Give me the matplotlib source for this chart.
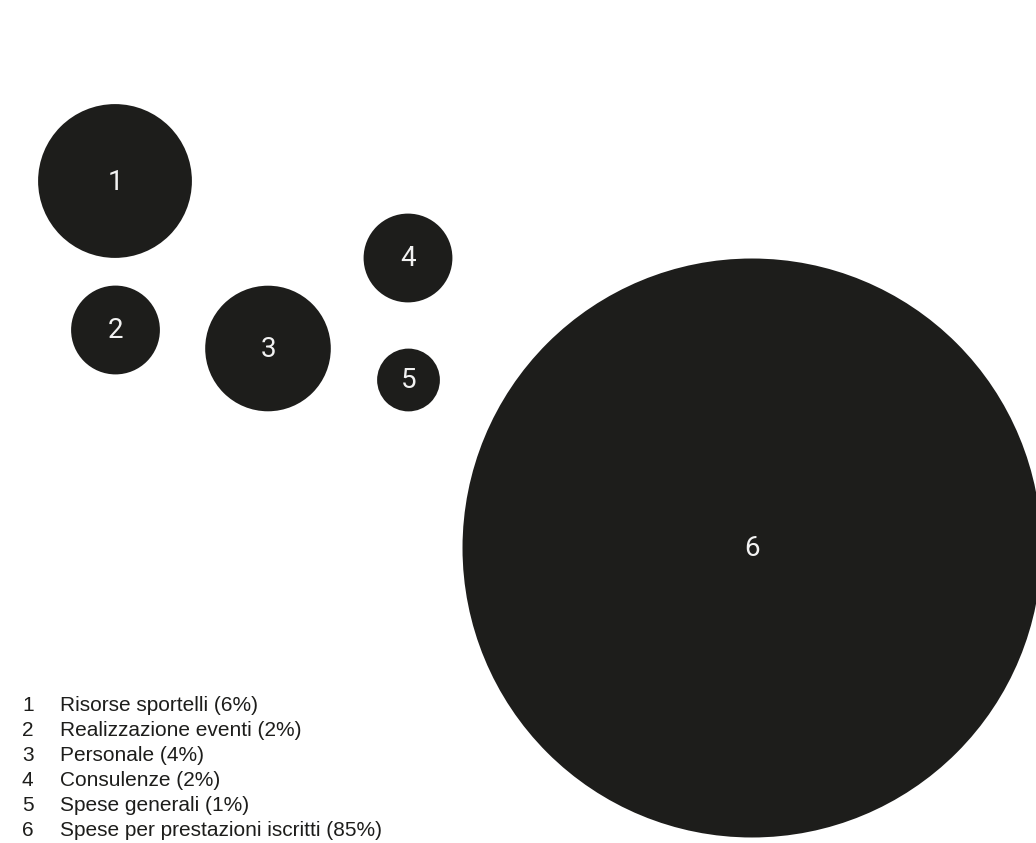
import matplotlib
matplotlib.use("Agg")
from matplotlib import pyplot as plt
from matplotlib.patches import Circle
import numpy as np

# data
ids = [1, 2, 3, 4, 5, 6]
names = ["Risorse sportelli", "Realizzazione eventi", "Personale",
         "Consulenze", "Spese generali", "Spese per prestazioni iscritti"]
shares = [6, 2, 4, 2, 1, 85]

# bubble layout (pixel space of the figure, y down)
centers = [(115, 181), (115.5, 330), (268, 348.5),
           (408, 258), (408.5, 380), (752, 548)]
scale = 31.4  # radius per sqrt(percent)

dark = "#1d1d1b"
plt.rcParams['font.family'] = ['Roboto', 'DejaVu Sans']

fig = plt.figure(figsize=(10.36, 8.43), dpi=100)
ax = fig.add_axes([0, 0, 1, 1])
ax.set_xlim(0, 1036)
ax.set_ylim(843, 0)
ax.set_aspect('equal')
ax.axis('off')

for i, (cx, cy) in enumerate(centers):
    r = scale * np.sqrt(shares[i])
    ax.add_patch(Circle((cx, cy), r, color=dark, lw=0))
    ax.text(cx, cy + 1, str(ids[i]), color="#f2f2f2", fontsize=20,
            ha='center', va='center')

# legend list, aligned on baselines
leg_font = ['Liberation Sans', 'DejaVu Sans']
for i in range(len(ids)):
    y = 711 + i * 25
    ax.text(22, y, str(ids[i]), color=dark, fontsize=15, ha='left',
            va='baseline', family=leg_font)
    ax.text(60, y, f"{names[i]} ({shares[i]}%)", color=dark, fontsize=15,
            ha='left', va='baseline', family=leg_font)

plt.savefig("out.png", dpi=100)
